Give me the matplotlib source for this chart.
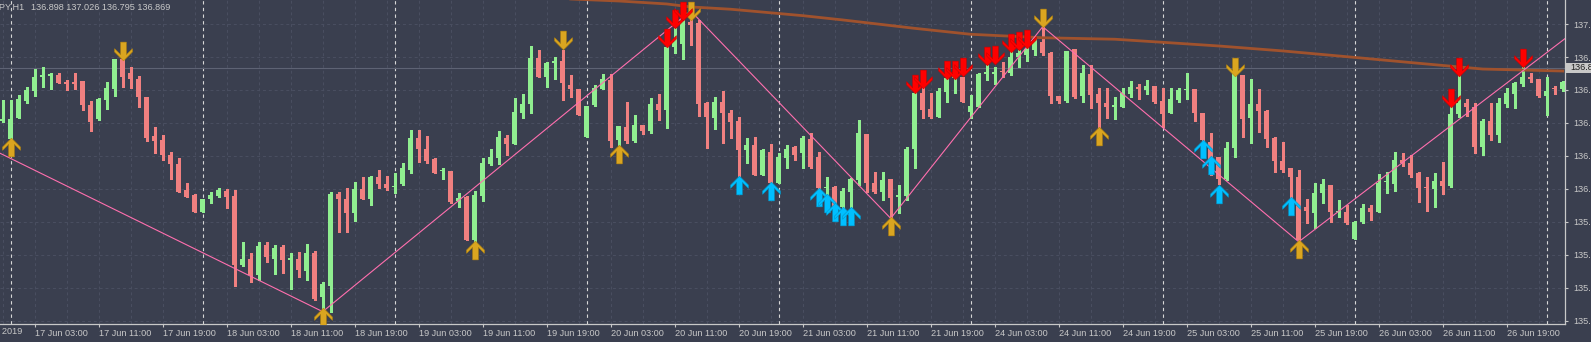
import matplotlib
matplotlib.use("Agg")
import matplotlib.pyplot as plt
from matplotlib.path import Path
from matplotlib.patches import Rectangle

# hourly USDJPY bars, index 0 = 17 Jun 00:00 (bar -1 is the last Friday bar)
opens = [136.545, 136.436, 136.567, 136.668, 136.731, 136.815, 136.818, 136.824, 136.784, 136.784,
         136.790, 136.644, 136.559, 136.675, 136.741, 136.923, 136.838, 136.802, 136.693, 136.456,
         136.432, 136.339, 136.286, 136.128, 136.098, 135.995, 136.074, 136.092, 136.122, 136.094,
         135.673, 135.708, 135.612, 135.795, 135.710, 135.780, 135.706, 135.708, 135.639, 135.748,
         135.477, 135.548, 136.104, 136.074, 135.987, 136.132, 136.074, 136.205, 136.163, 136.146,
         136.162, 136.249, 136.446, 136.375, 136.314, 136.241, 136.243, 136.063, 136.087, 135.824,
         136.093, 136.286, 136.324, 136.446, 136.407, 136.597, 136.650, 136.929, 136.816, 136.897,
         136.913, 136.765, 136.741, 136.452, 136.644, 136.743, 136.795, 136.431, 136.512, 136.427,
         136.520, 136.486, 136.650, 136.613, 136.998, 137.012, 137.150, 137.143, 136.658, 136.567,
         136.664, 136.597, 136.547, 136.371, 136.401, 136.219, 136.356, 136.172, 136.322, 136.391,
         136.350, 136.435, 136.330, 136.140, 136.148, 136.027, 136.118, 136.189, 136.468, 136.172,
         136.118, 136.195, 136.083, 136.091, 136.377, 136.715, 136.619, 136.573, 136.725, 136.806,
         136.812, 136.603, 136.634, 136.834, 136.832, 136.852, 136.840, 136.933, 136.947, 136.978,
         137.028, 136.957, 136.698, 136.670, 136.982, 136.698, 136.832, 136.711, 136.654, 136.633,
         136.634, 136.711, 136.751, 136.735, 136.759, 136.670, 136.597, 136.674, 136.732, 136.739,
         136.593, 136.421, 136.326, 136.192, 136.381, 136.826, 136.563, 136.650, 136.609, 136.445,
         136.306, 136.259, 136.209, 136.022, 135.990, 136.111, 136.158, 135.994, 135.992, 135.830,
         135.935, 136.016, 135.996, 136.176, 136.164, 136.310, 136.289, 136.229, 136.148, 136.134,
         136.182, 136.154, 136.589, 136.658, 136.633, 136.391, 136.548, 136.462, 136.650, 136.711,
         136.771, 136.816, 136.802, 136.700, 136.743, 136.739]
highs = [136.675, 136.675, 136.705, 136.755, 136.863, 136.873, 136.836, 136.836, 136.796, 136.838,
         136.790, 136.668, 136.685, 136.784, 136.925, 136.930, 136.873, 136.820, 136.695, 136.511,
         136.462, 136.359, 136.325, 136.169, 136.102, 136.076, 136.114, 136.138, 136.134, 136.128,
         135.813, 135.744, 135.811, 135.811, 135.795, 135.795, 135.748, 135.754, 135.801, 135.758,
         135.568, 136.118, 136.114, 136.138, 136.179, 136.209, 136.213, 136.250, 136.213, 136.229,
         136.290, 136.492, 136.492, 136.456, 136.320, 136.259, 136.245, 136.108, 136.089, 136.124,
         136.320, 136.375, 136.486, 136.462, 136.688, 136.711, 137.002, 136.978, 136.905, 136.937,
         136.978, 136.826, 136.743, 136.640, 136.765, 136.832, 136.832, 136.518, 136.664, 136.583,
         136.522, 136.684, 136.711, 137.028, 137.109, 137.205, 137.215, 137.160, 136.660, 136.690,
         136.731, 136.613, 136.573, 136.441, 136.452, 136.375, 136.407, 136.354, 136.401, 136.395,
         136.456, 136.472, 136.356, 136.205, 136.150, 136.138, 136.199, 136.553, 136.470, 136.239,
         136.239, 136.197, 136.158, 136.391, 136.725, 136.751, 136.715, 136.745, 136.826, 136.866,
         136.814, 136.704, 136.840, 136.887, 136.876, 136.907, 136.978, 136.978, 137.028, 137.048,
         137.119, 136.967, 136.698, 136.974, 136.982, 136.887, 136.887, 136.745, 136.745, 136.694,
         136.745, 136.791, 136.771, 136.795, 136.759, 136.745, 136.745, 136.745, 136.836, 136.741,
         136.595, 136.472, 136.328, 136.421, 136.840, 136.828, 136.799, 136.739, 136.611, 136.451,
         136.421, 136.261, 136.249, 136.071, 136.168, 136.192, 136.160, 136.067, 136.037, 135.937,
         136.043, 136.037, 136.223, 136.239, 136.360, 136.350, 136.340, 136.239, 136.209, 136.233,
         136.300, 136.644, 136.826, 136.678, 136.654, 136.557, 136.654, 136.684, 136.745, 136.785,
         136.876, 136.840, 136.802, 136.812, 136.759, 136.791]
lows = [136.540, 136.430, 136.565, 136.658, 136.701, 136.755, 136.741, 136.776, 136.737, 136.739,
        136.614, 136.488, 136.553, 136.620, 136.701, 136.755, 136.745, 136.634, 136.426, 136.355,
        136.310, 136.195, 136.116, 136.086, 135.993, 135.993, 136.051, 136.084, 136.021, 135.548,
        135.667, 135.568, 135.582, 135.693, 135.617, 135.627, 135.526, 135.602, 135.582, 135.461,
        135.380, 135.390, 135.875, 135.875, 135.942, 136.072, 136.037, 136.142, 136.128, 136.108,
        136.160, 136.233, 136.296, 136.290, 136.229, 136.193, 136.051, 136.023, 135.822, 135.815,
        136.061, 136.280, 136.284, 136.340, 136.405, 136.567, 136.597, 136.812, 136.755, 136.804,
        136.674, 136.694, 136.581, 136.450, 136.638, 136.739, 136.391, 136.401, 136.411, 136.421,
        136.466, 136.472, 136.553, 136.502, 136.957, 136.921, 137.008, 136.577, 136.381, 136.498,
        136.411, 136.441, 136.213, 136.294, 136.217, 136.217, 136.170, 136.168, 136.259, 136.310,
        136.259, 136.263, 136.136, 136.067, 136.017, 136.017, 136.027, 136.158, 136.118, 136.112,
        136.067, 135.956, 135.986, 136.067, 136.259, 136.563, 136.567, 136.571, 136.664, 136.719,
        136.662, 136.567, 136.632, 136.795, 136.771, 136.816, 136.826, 136.876, 136.911, 136.947,
        136.947, 136.654, 136.654, 136.664, 136.684, 136.664, 136.624, 136.512, 136.563, 136.557,
        136.630, 136.694, 136.680, 136.711, 136.658, 136.512, 136.593, 136.664, 136.678, 136.548,
        136.395, 136.219, 136.164, 136.190, 136.330, 136.451, 136.411, 136.482, 136.387, 136.239,
        136.239, 135.986, 135.814, 135.925, 135.895, 136.047, 135.935, 135.966, 135.921, 135.828,
        135.929, 135.946, 135.994, 136.111, 136.124, 136.273, 136.209, 136.057, 136.002, 136.022,
        136.103, 136.148, 136.569, 136.577, 136.350, 136.340, 136.431, 136.421, 136.630, 136.624,
        136.759, 136.785, 136.694, 136.583, 136.711, 136.731]
closes = [136.557, 136.559, 136.679, 136.735, 136.812, 136.818, 136.830, 136.780, 136.774, 136.772,
          136.646, 136.543, 136.681, 136.749, 136.923, 136.816, 136.800, 136.695, 136.442, 136.426,
          136.341, 136.286, 136.118, 136.088, 135.995, 136.074, 136.098, 136.128, 136.088, 135.673,
          135.708, 135.612, 135.788, 135.720, 135.774, 135.704, 135.710, 135.643, 135.748, 135.467,
          135.558, 136.104, 136.074, 135.991, 136.132, 136.074, 136.205, 136.165, 136.142, 136.150,
          136.263, 136.446, 136.375, 136.306, 136.233, 136.245, 136.057, 136.079, 135.824, 136.098,
          136.294, 136.330, 136.452, 136.407, 136.603, 136.650, 136.929, 136.816, 136.901, 136.913,
          136.775, 136.741, 136.583, 136.638, 136.749, 136.802, 136.425, 136.516, 136.427, 136.522,
          136.486, 136.650, 136.613, 136.998, 137.028, 137.160, 137.129, 136.650, 136.573, 136.664,
          136.593, 136.543, 136.371, 136.401, 136.219, 136.371, 136.172, 136.330, 136.377, 136.340,
          136.441, 136.265, 136.138, 136.144, 136.027, 136.124, 136.195, 136.472, 136.168, 136.118,
          136.189, 136.077, 136.098, 136.377, 136.715, 136.613, 136.569, 136.729, 136.806, 136.826,
          136.664, 136.638, 136.832, 136.838, 136.846, 136.844, 136.937, 136.957, 136.982, 137.028,
          136.957, 136.698, 136.670, 136.974, 136.690, 136.836, 136.704, 136.654, 136.630, 136.637,
          136.715, 136.751, 136.739, 136.759, 136.662, 136.589, 136.680, 136.735, 136.736, 136.597,
          136.431, 136.294, 136.192, 136.381, 136.836, 136.559, 136.650, 136.609, 136.437, 136.306,
          136.249, 136.209, 135.824, 136.002, 136.107, 136.164, 135.996, 135.998, 135.925, 135.935,
          136.016, 135.996, 136.172, 136.180, 136.310, 136.289, 136.219, 136.142, 136.138, 136.184,
          136.154, 136.589, 136.658, 136.633, 136.391, 136.548, 136.461, 136.654, 136.715, 136.775,
          136.812, 136.802, 136.700, 136.729, 136.739, 136.785]
bars = list(range(-1, -1 + len(opens)))

# moving average (brown) read at a few bars
ma_bar = [68, 70, 76, 82, 85, 90, 99, 104, 113, 120, 129, 138, 146, 151, 159, 167, 176, 184, 194]
ma_price = [137.299, 137.287, 137.275, 137.257, 137.239, 137.225, 137.186, 137.160, 137.109, 137.073,
            137.052, 137.043, 137.018, 137.002, 136.972, 136.937, 136.897, 136.862, 136.850]

# zigzag swing points
zz_bar = [-2, 39, 85, 110, 129, 161, 196]
zz_price = [136.367, 135.390, 137.215, 135.956, 137.119, 135.814, 137.110]

# signal arrows
gold_up_bar = [0, 39, 58, 76, 110, 136, 161]
gold_up_price = [136.386, 135.357, 135.762, 136.347, 135.907, 136.457, 135.773]
gold_dn_bar = [14, 69, 85, 129, 153]
gold_dn_price = [136.972, 137.036, 137.212, 137.170, 136.876]
red_dn_bar = [82, 83, 84, 113, 114, 117, 118, 119, 122, 123, 125, 126, 127, 180, 181, 189]
red_dn_price = [137.049, 137.166, 137.217, 136.770, 136.801, 136.856, 136.856, 136.876, 136.942,
                136.947, 137.023, 137.035, 137.046, 136.686, 136.876, 136.932]
blue_up_bar = [91, 95, 101, 102, 103, 104, 105, 149, 150, 151, 160]
blue_up_price = [136.160, 136.120, 136.086, 136.049, 135.995, 135.970, 135.970, 136.378, 136.277,
                 136.106, 136.034]

time_tick_bar = [-5, 3, 11, 19, 27, 35, 43, 51, 59, 67, 75, 83, 91, 99, 107, 115, 123, 131, 139,
                 147, 155, 163, 171, 179, 187]
time_tick_label = ["14 Jun 2019", "17 Jun 03:00", "17 Jun 11:00", "17 Jun 19:00", "18 Jun 03:00",
                   "18 Jun 11:00", "18 Jun 19:00", "19 Jun 03:00", "19 Jun 11:00", "19 Jun 19:00",
                   "20 Jun 03:00", "20 Jun 11:00", "20 Jun 19:00", "21 Jun 03:00", "21 Jun 11:00",
                   "21 Jun 19:00", "24 Jun 03:00", "24 Jun 11:00", "24 Jun 19:00", "25 Jun 03:00",
                   "25 Jun 11:00", "25 Jun 19:00", "26 Jun 03:00", "26 Jun 11:00", "26 Jun 19:00"]
price_ticks = [137.135, 136.935, 136.735, 136.535, 136.335, 136.135, 135.935, 135.735, 135.535, 135.335]
separator_bar = [0, 24, 48, 72, 96, 120, 144, 168, 192]
bid = 136.869
header = "136.898 137.026 136.795 136.869"

BG = "#3a3f4f"
FG = "#c8c8c8"
GRID = "#4a4f61"
UPC = "#90ee90"
DNC = "#f08080"

plt.rcParams["font.family"] = ["Liberation Sans", "DejaVu Sans"]
W, H = 1591, 342
fig = plt.figure(figsize=(W / 100, H / 100), dpi=100, facecolor=BG)
ax_right_px, ax_bottom_px = 1565.3, 324
ax = fig.add_axes([0, (H - ax_bottom_px) / H, ax_right_px / W, ax_bottom_px / H])
ax.set_facecolor(BG)

# pixel layout: bar i sits at 10.7 + 8*i px
def bar_px(b):
    return 10.7 + 8 * b

# grid
for p in price_ticks:
    ax.axhline(p, color=GRID, lw=0.7, ls=(0, (3, 3)), zorder=0)
for b in range(-5, 200, 4):
    ax.axvline(b, color=GRID, lw=0.7, ls=(0, (3, 3)), zorder=0)
for b in separator_bar:
    ax.axvline(b, color="#d8d8d8", lw=0.8, ls=(0, (3, 3)), zorder=1)
ax.axhline(bid, color="#5e6374", lw=0.8, zorder=1)

# candles
for b, o, hi, lo, c in zip(bars, opens, highs, lows, closes):
    col = UPC if c >= o else DNC
    ax.vlines(b, lo, hi, color=col, lw=0.75, zorder=3, antialiased=False)
    bot = min(o, c)
    hgt = max(abs(c - o), 0.008)
    ax.bar(b, hgt, bottom=bot, width=0.62, color=col, linewidth=0, zorder=3, antialiased=False)

ax.plot(ma_bar, ma_price, color="#a0522d", lw=2.0, zorder=4)
ax.plot(zz_bar, zz_price, color="#ff6fae", lw=0.8, zorder=4)

# arrow markers
up_arrow = Path([(0, 1), (0.95, 0.05), (0.95, -0.3), (0.3, 0.35), (0.3, -1), (-0.3, -1),
                 (-0.3, 0.35), (-0.95, -0.3), (-0.95, 0.05), (0, 1)], closed=True)
dn_arrow = Path([(x, -y) for x, y in up_arrow.vertices], closed=True)
MS = 13.5
ax.plot(gold_up_bar, gold_up_price, ls="none", marker=up_arrow, ms=MS, mfc="#daa520", mec="#b8860b", mew=0.4, zorder=5)
ax.plot(gold_dn_bar, gold_dn_price, ls="none", marker=dn_arrow, ms=MS, mfc="#daa520", mec="#b8860b", mew=0.4, zorder=5)
ax.plot(red_dn_bar, red_dn_price, ls="none", marker=dn_arrow, ms=MS, mfc="#ff0000", mec="#cc0000", mew=0.4, zorder=5)
ax.plot(blue_up_bar, blue_up_price, ls="none", marker=up_arrow, ms=MS, mfc="#00bfff", mec="#0099cc", mew=0.4, zorder=5)

# axes styling
for s in ["top", "left"]:
    ax.spines[s].set_visible(False)
for s in ["right", "bottom"]:
    ax.spines[s].set_color(FG)
    ax.spines[s].set_linewidth(0.9)
ax.yaxis.tick_right()
ax.set_yticks(price_ticks)
ax.set_yticklabels([f"{p:.3f}" for p in price_ticks])
ax.set_xticks(time_tick_bar[1:])
ax.set_xticklabels(time_tick_label[1:])
ax.tick_params(axis="both", colors=FG, labelcolor=FG, labelsize=6.6, length=2.5, width=0.8,
               direction="out")
ax.tick_params(axis="y", pad=3)
ax.tick_params(axis="x", pad=0.8)
for lbl in ax.get_xticklabels():
    lbl.set_horizontalalignment("left")

# limits last, so the ticks do not widen them
ax.set_xlim((0 - 10.7) / 8, (ax_right_px - 10.7) / 8)
ax.set_ylim(137.281 - ax_bottom_px / 164.8, 137.281)

# first date label sits left of the visible area, only its tail shows
fig.text((bar_px(time_tick_bar[0]) + 1) / W, 1 - 332 / H, time_tick_label[0], color=FG,
         fontsize=6.6, va="center", ha="left")

# bid price box on the scale
fig.patches.append(Rectangle((1566 / W, 1 - 72.7 / H), 40 / W, 10 / H, transform=fig.transFigure,
                             facecolor="#c8c8c8", edgecolor="none"))
fig.text(1570 / W, 1 - 67.7 / H, f"{bid:.3f}", color="#202020", fontsize=6.6, va="center", ha="left")

# header
fig.text(24 / W, 1 - 7.3 / H, "USDJPY,H1", color=FG, fontsize=6.6, va="center", ha="right")
fig.text(30.7 / W, 1 - 7.3 / H, header, color=FG, fontsize=6.6, va="center", ha="left")

fig.savefig("out.png", dpi=100, facecolor=BG)
